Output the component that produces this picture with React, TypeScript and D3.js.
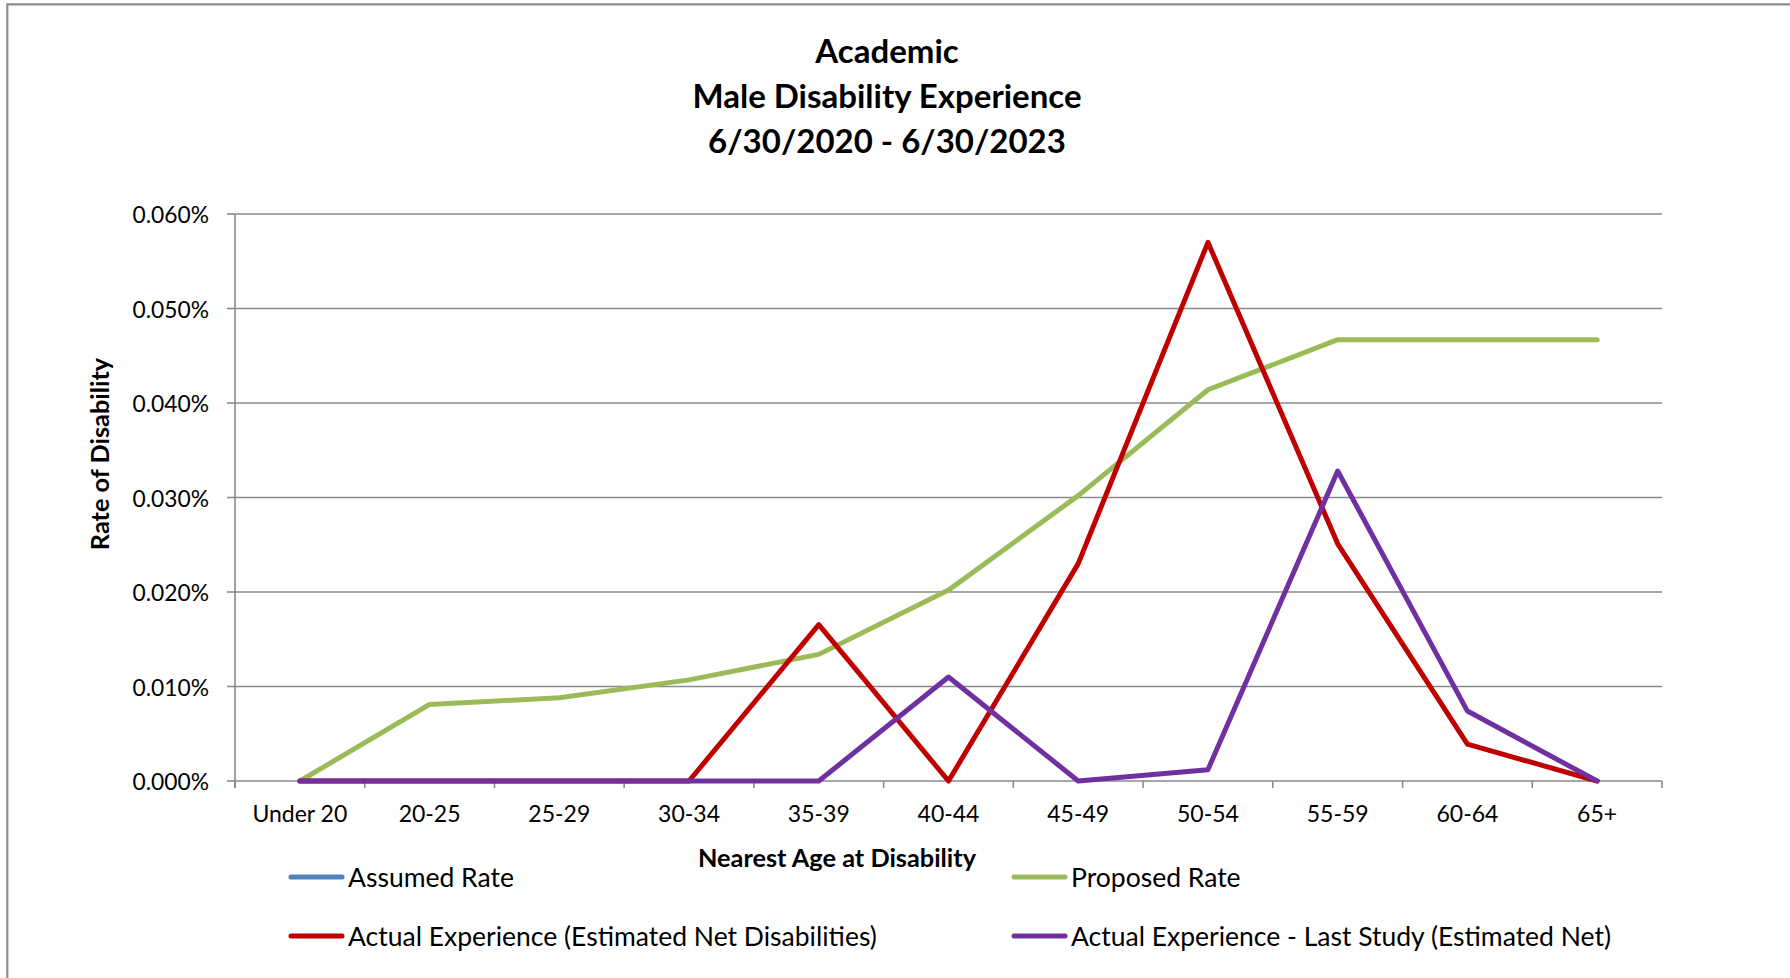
import React from "react";
import * as d3 from "d3";

// Age bands on the horizontal axis
const categories = [
  "Under 20", "20-25", "25-29", "30-34", "35-39", "40-44",
  "45-49", "50-54", "55-59", "60-64", "65+",
];

// Rates of disability, in percent
const assumedRate: (number | null)[] = [];
const proposedRate = [0, 0.0081, 0.0088, 0.0107, 0.0134, 0.0202, 0.0302, 0.0414, 0.0467, 0.0467, 0.0467];
const actualExperience = [0, 0, 0, 0, 0.01655, 0, 0.0230, 0.0570, 0.0251, 0.0039, 0];
const lastStudy = [0, 0, 0, 0, 0, 0.0110, 0, 0.0012, 0.0328, 0.0074, 0];

const yTicks = [0, 0.01, 0.02, 0.03, 0.04, 0.05, 0.06];

const titleLines = ["Academic", "Male Disability Experience", "6/30/2020 - 6/30/2023"];

const series = [
  { name: "Assumed Rate", color: "#4F81BD", values: assumedRate },
  { name: "Proposed Rate", color: "#9BBB59", values: proposedRate },
  { name: "Actual Experience (Estimated Net Disabilities)", color: "#C00000", values: actualExperience },
  { name: "Actual Experience - Last Study (Estimated Net)", color: "#7030A0", values: lastStudy },
];

const W = 1790;
const H = 978;
const FONT = "Lato, 'Open Sans', sans-serif";

export default function App() {
  const plot = { left: 235, right: 1662, top: 214, bottom: 781 };

  const x = d3.scaleBand<string>().domain(categories).range([plot.left, plot.right]).padding(0);
  const y = d3.scaleLinear().domain([0, 0.06]).range([plot.bottom, plot.top]);
  const cx = (c: string) => (x(c) as number) + x.bandwidth() / 2;
  const fmt = (v: number) => d3.format(".3f")(v) + "%";

  const line = d3
    .line<number | null>()
    .defined((d) => d !== null && d !== undefined)
    .x((_, i) => cx(categories[i]))
    .y((d) => y(d as number));

  const gridColor = "#8a8a8a";
  const boundaries = [...categories.map((c) => x(c) as number), plot.right];

  const legendRows = [
    [series[0], series[1]],
    [series[2], series[3]],
  ];
  const legendCols = [291, 1014];
  const legendYs = [877, 936];

  return (
    <svg
      width={W}
      height={H}
      style={{ position: "absolute", left: 0, top: 0, display: "block", background: "#fff" }}
      fontFamily={FONT}
    >
      <rect x={0} y={0} width={W} height={H} fill="#fff" />
      {/* chart frame */}
      <path d={`M7.3,${H + 5} L7.3,4.3 L${W + 5},4.3`} fill="none" stroke="#8c8c8c" strokeWidth={2.2} />

      {/* title */}
      {titleLines.map((t, i) => (
        <text
          key={t}
          x={887}
          y={50 + i * 45}
          textAnchor="middle"
          dominantBaseline="central"
          fontWeight="bold"
          fontSize={33}
          fill="#000"
        >
          {t}
        </text>
      ))}

      {/* horizontal gridlines and y ticks */}
      {yTicks.map((t) => (
        <g key={t}>
          <line x1={plot.left} x2={plot.right} y1={y(t)} y2={y(t)} stroke={gridColor} strokeWidth={1.6} />
          <line x1={plot.left - 8} x2={plot.left} y1={y(t)} y2={y(t)} stroke={gridColor} strokeWidth={1.6} />
          <text x={209} y={y(t)} textAnchor="end" dominantBaseline="central" fontSize={22.8} fill="#000">
            {fmt(t)}
          </text>
        </g>
      ))}

      {/* y axis line */}
      <line x1={plot.left} x2={plot.left} y1={plot.top} y2={plot.bottom + 7} stroke={gridColor} strokeWidth={1.6} />

      {/* x ticks */}
      {boundaries.map((b, i) => (
        <line key={i} x1={b} x2={b} y1={plot.bottom} y2={plot.bottom + 7} stroke={gridColor} strokeWidth={1.6} />
      ))}
      {categories.map((c) => (
        <text key={c} x={cx(c)} y={813} textAnchor="middle" dominantBaseline="central" fontSize={23} fill="#000">
          {c}
        </text>
      ))}

      {/* axis titles */}
      <text x={837} y={857} textAnchor="middle" dominantBaseline="central" fontWeight="bold" fontSize={25.3} fill="#000">
        Nearest Age at Disability
      </text>
      <text
        transform={`translate(99,454) rotate(-90)`}
        textAnchor="middle"
        dominantBaseline="central"
        fontWeight="bold"
        fontSize={25.3}
        fill="#000"
      >
        Rate of Disability
      </text>

      {/* series lines */}
      {series.map((s) =>
        s.values.length ? (
          <path
            key={s.name}
            d={line(s.values) || ""}
            fill="none"
            stroke={s.color}
            strokeWidth={5}
            strokeLinejoin="round"
            strokeLinecap="round"
          />
        ) : null
      )}

      {/* legend */}
      {legendRows.map((row, ri) =>
        row.map((s, ci) => (
          <g key={s.name} transform={`translate(${legendCols[ci]},${legendYs[ri]})`}>
            <line x1={0} x2={51} y1={0} y2={0} stroke={s.color} strokeWidth={5} strokeLinecap="round" />
            <text x={57} y={0} dominantBaseline="central" fontSize={26.5} fill="#000">
              {s.name}
            </text>
          </g>
        ))
      )}
    </svg>
  );
}
